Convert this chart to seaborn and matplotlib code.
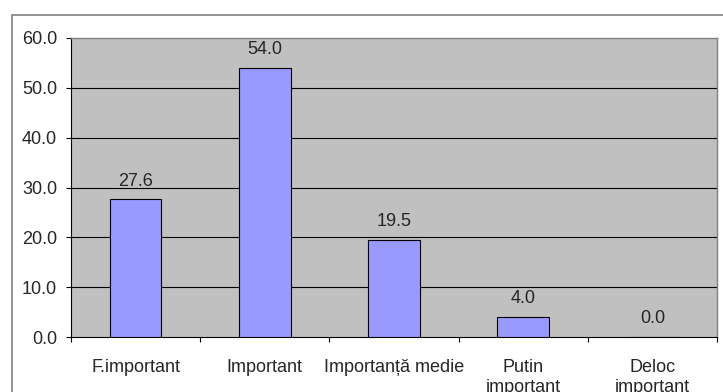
import matplotlib
matplotlib.use("Agg")
import matplotlib.pyplot as plt
import seaborn as sns
import pandas as pd
from matplotlib.patches import Rectangle

categories = ["F.important", "Important", "Importanță medie", "Putin\nimportant", "Deloc\nimportant"]
values = [27.6, 54.0, 19.5, 4.0, 0.0]
yticks = [0, 10, 20, 30, 40, 50, 60]

sns.set_style("white")
plt.rcParams['font.family'] = ['Liberation Sans', 'DejaVu Sans']

FS = 13
fig = plt.figure(figsize=(7.23, 3.92), dpi=100)
W, H = 723, 392
ax = fig.add_axes([71 / W, 1 - 337 / H, (717 - 71) / W, (337 - 38) / H])

df = pd.DataFrame({"cat": categories, "val": values})
sns.barplot(data=df, x="cat", y="val", ax=ax, color="#9999FF", saturation=1,
            width=0.4, edgecolor="black", linewidth=0.8, zorder=3)

ax.set_facecolor("#C0C0C0")
ax.set_ylim(0, 60)
ax.set_xlim(-0.5, len(categories) - 0.5)
ax.set_yticks(yticks)
ax.set_yticklabels([f"{v:.1f}" for v in yticks], fontsize=FS)
for v in yticks[1:-1]:
    ax.axhline(v, color="black", lw=0.8, zorder=1)

ax.set_xticks([i - 0.5 for i in range(len(categories) + 1)], minor=False)
ax.set_xticklabels([])
ax.set_xticks(range(len(categories)), minor=True)
ax.set_xticklabels(categories, minor=True, fontsize=FS, linespacing=1.2, va="top")
ax.tick_params(axis="x", which="major", length=3.6, color="black", direction="out", bottom=True)
ax.tick_params(axis="x", which="minor", length=0, pad=16)
ax.tick_params(axis="y", length=3.6, color="black", direction="out", left=True, pad=6.5)
ax.set_xlabel("")
ax.set_ylabel("")

for s in ["top", "right"]:
    ax.spines[s].set_color("#808080")
    ax.spines[s].set_linewidth(1)
for s in ["left", "bottom"]:
    ax.spines[s].set_color("black")
    ax.spines[s].set_linewidth(0.8)

for i, v in enumerate(values):
    ax.annotate(f"{v:.1f}", (i, v), xytext=(0, 7), textcoords="offset points",
                ha="center", va="bottom", fontsize=FS)

fig.patches.append(Rectangle((12 / W, -0.05), 1.1, 1 - 15 / H + 0.05, transform=fig.transFigure,
                             fill=False, edgecolor="#808080", lw=1.2, zorder=0))

fig.savefig("out.png", dpi=100, facecolor="white")
